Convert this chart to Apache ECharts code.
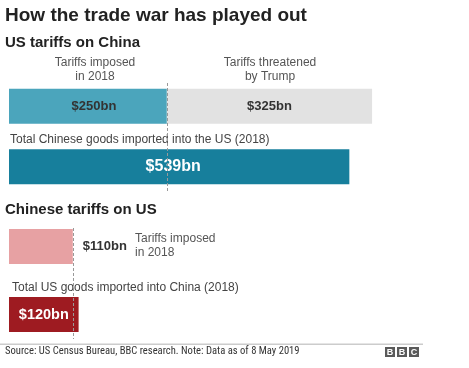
<!DOCTYPE html>
<html><head><meta charset="utf-8">
<script src="https://cdn.jsdelivr.net/npm/echarts@6/dist/echarts.min.js"></script>
<style>html,body{margin:0;padding:0;background:#fff}#c{width:469px;height:368px}</style>
</head><body><div id="c"></div>
<script>
// ---- data ----
const usRows = ['Tariffs', 'Total'];
const usImposed = [250, null];
const usThreatened = [325, null];
const usTotal = [null, 539];
const cnRows = ['Tariffs', 'Total'];
const cnImposed = [110, null];
const cnTotal = [null, 120];
const usImposedValue = 250;
const cnImposedValue = 110;

const FONT = '"Liberation Sans", Arial, Helvetica, sans-serif';
const chart = echarts.init(document.getElementById('c'), null, {renderer: 'canvas'});
const fmt = p => '$' + p.value + 'bn';

const dashed = {lineStyle: {color: '#999', type: [3, 2], width: 1}};

chart.setOption({
  animation: false,
  textStyle: {fontFamily: FONT},
  grid: [
    {left: 9, width: 442, top: 76, height: 121},
    {left: 9, width: 116, top: 212.5, height: 136}
  ],
  xAxis: [
    {gridIndex: 0, type: 'value', min: 0, max: 700, show: false},
    {gridIndex: 1, type: 'value', min: 0, max: 200, show: false}
  ],
  yAxis: [
    {gridIndex: 0, type: 'category', data: usRows, inverse: true, show: false},
    {gridIndex: 1, type: 'category', data: cnRows, inverse: true, show: false}
  ],
  series: [
    {type: 'bar', xAxisIndex: 0, yAxisIndex: 0, stack: 'us', data: usImposed, barWidth: 35,
     itemStyle: {color: '#4ba5bc'},
     label: {show: true, position: 'inside', offset: [6, 0], formatter: fmt, color: '#333', fontSize: 13, fontWeight: 'bold', fontFamily: FONT},
     markLine: {silent: true, symbol: 'none', label: {show: false}, ...dashed,
       data: [[{xAxis: usImposedValue, y: 83}, {xAxis: usImposedValue, y: 192}]]},
     z: 2},
    {type: 'bar', xAxisIndex: 0, yAxisIndex: 0, stack: 'us', data: usThreatened, barWidth: 35,
     itemStyle: {color: '#e2e2e2'},
     label: {show: true, position: 'inside', formatter: fmt, color: '#333', fontSize: 13, fontWeight: 'bold', fontFamily: FONT}},
    {type: 'bar', xAxisIndex: 0, yAxisIndex: 0, stack: 'us', data: usTotal, barWidth: 35,
     itemStyle: {color: '#177f9c'},
     label: {show: true, position: 'inside', offset: [-6, 0], formatter: fmt, color: '#fff', fontSize: 16, fontWeight: 'bold', fontFamily: FONT}},
    {type: 'bar', xAxisIndex: 1, yAxisIndex: 1, stack: 'cn', data: cnImposed, barWidth: 35,
     itemStyle: {color: '#e7a1a3'},
     label: {show: true, position: 'right', distance: 10, formatter: fmt, color: '#333', fontSize: 13, fontWeight: 'bold', fontFamily: FONT},
     markLine: {silent: true, symbol: 'none', label: {show: false}, ...dashed,
       data: [[{xAxis: cnImposedValue, y: 228}, {xAxis: cnImposedValue, y: 339}]]}},
    {type: 'bar', xAxisIndex: 1, yAxisIndex: 1, stack: 'cn', data: cnTotal, barWidth: 35,
     itemStyle: {color: '#9e1b21'},
     label: {show: true, position: 'inside', formatter: fmt, color: '#fff', fontSize: 14.5, fontWeight: 'bold', fontFamily: FONT}}
  ],
  graphic: [
    {type: 'text', left: 5, top: 6, style: {text: 'How the trade war has played out', font: 'bold 19px ' + FONT, fill: '#222'}},
    {type: 'text', left: 5, top: 35, style: {text: 'US tariffs on China', font: 'bold 15px ' + FONT, fill: '#222'}},
    {type: 'text', x: 95, y: 56, style: {text: 'Tariffs imposed\nin 2018', font: '12px ' + FONT, fill: '#555', align: 'center', lineHeight: 14}},
    {type: 'text', x: 270, y: 56, style: {text: 'Tariffs threatened\nby Trump', font: '12px ' + FONT, fill: '#555', align: 'center', lineHeight: 14}},
    {type: 'text', x: 10, y: 134, style: {text: 'Total Chinese goods imported into the US (2018)', font: '12px ' + FONT, fill: '#444'}},
    {type: 'text', left: 5, top: 202, style: {text: 'Chinese tariffs on US', font: 'bold 15px ' + FONT, fill: '#222'}},
    {type: 'text', x: 135, y: 232, style: {text: 'Tariffs imposed\nin 2018', font: '12px ' + FONT, fill: '#555', lineHeight: 14}},
    {type: 'text', x: 12, y: 282, style: {text: 'Total US goods imported into China (2018)', font: '12px ' + FONT, fill: '#444'}},
    {type: 'rect', shape: {x: 0, y: 343.5, width: 423, height: 1.5}, style: {fill: '#ccc'}},
    {type: 'text', x: 5, y: 346, style: {text: 'Source: US Census Bureau, BBC research. Note: Data as of 8 May 2019', font: '10.6px "Liberation Sans Narrow", "Roboto Condensed", "DejaVu Sans Condensed", ' + FONT, fill: '#333'}},
    {type: 'group', x: 385, y: 347, children: [
      {type: 'rect', shape: {x: 0, y: 0, width: 10, height: 10}, style: {fill: '#5a5a5a'}},
      {type: 'rect', shape: {x: 12, y: 0, width: 10, height: 10}, style: {fill: '#5a5a5a'}},
      {type: 'rect', shape: {x: 24, y: 0, width: 10, height: 10}, style: {fill: '#5a5a5a'}},
      {type: 'text', x: 5, y: 1, style: {text: 'B', font: 'bold 9px ' + FONT, fill: '#fff', align: 'center'}},
      {type: 'text', x: 17, y: 1, style: {text: 'B', font: 'bold 9px ' + FONT, fill: '#fff', align: 'center'}},
      {type: 'text', x: 29, y: 1, style: {text: 'C', font: 'bold 9px ' + FONT, fill: '#fff', align: 'center'}}
    ]}
  ]
});
</script></body></html>
